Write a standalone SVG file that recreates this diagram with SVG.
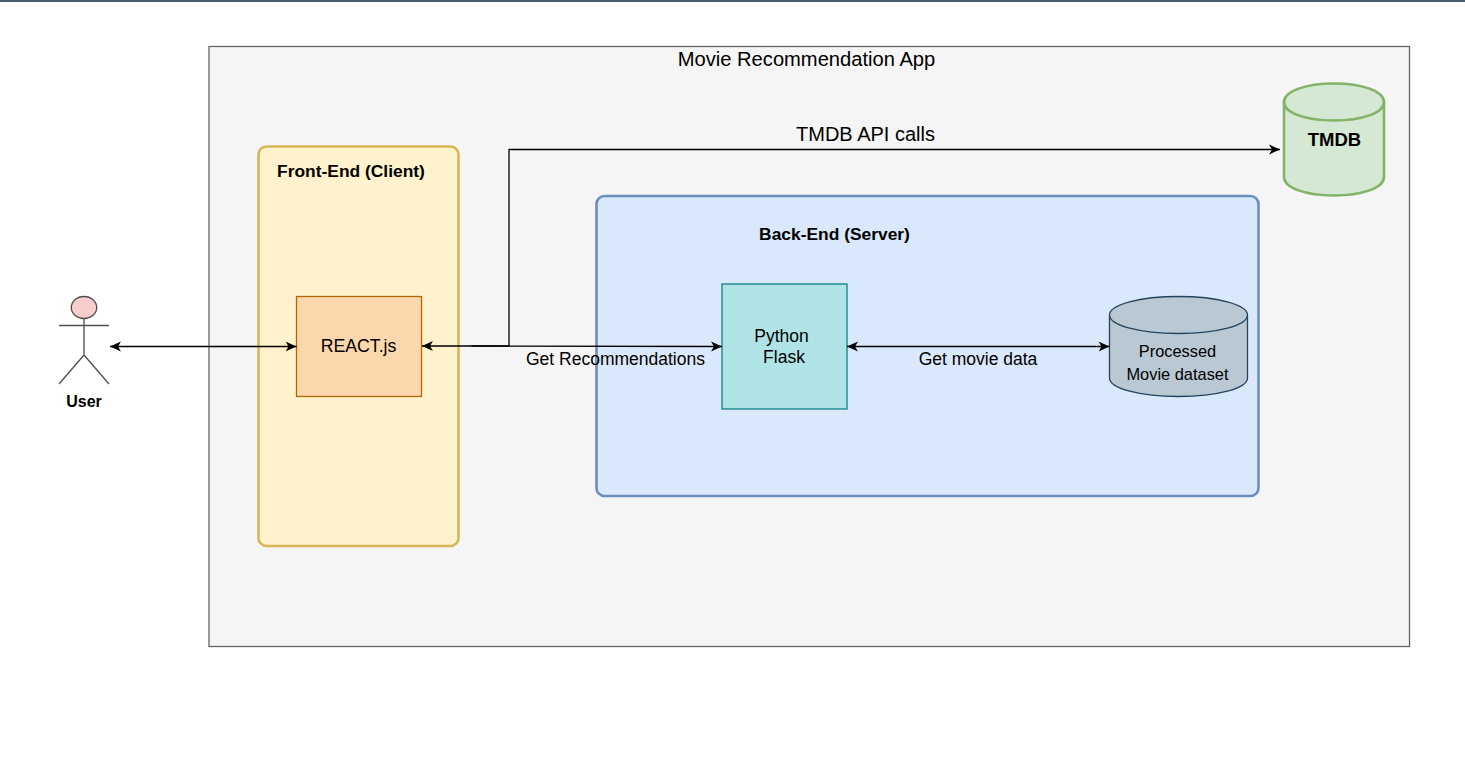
<svg xmlns="http://www.w3.org/2000/svg" width="1465" height="759" viewBox="0 0 1465 759">
<style>
text{font-family:"Liberation Sans",Arial,sans-serif;fill:#000;text-anchor:middle}
.b{font-weight:bold;font-size:17.400px}
.m{font-size:16.400px}
.l{font-size:17.500px}
.c{fill:none;stroke:#000;stroke-width:1.300}
.head{fill:#000}
</style>
<defs>
<marker id="arrow" markerUnits="userSpaceOnUse" viewBox="0 0 12 12" refX="11" refY="6" markerWidth="12" markerHeight="12" orient="auto-start-reverse"><path class="head" d="M0,1 L11,6 L0,11 L3,6 Z"/></marker>
</defs>
<rect width="1465" height="759" fill="#fff"/>
<rect id="topbar" x="0" y="0" width="1465" height="2" fill="#4a5f6b"/>
<g id="app"><rect x="209" y="46.500" width="1200.500" height="600" fill="#f5f5f5" stroke="#666" stroke-width="1.300"/><text x="806.500" y="65.500" style="font-size:20.150px">Movie Recommendation App</text></g>
<g id="frontend"><rect x="258.500" y="146.500" width="200" height="399.500" rx="8" fill="#fff2cc" stroke="#d6b656" stroke-width="2.600"/><text x="351" y="176.500" class="b">Front-End (Client)</text></g>
<g id="backend"><rect x="596.500" y="196" width="662" height="300" rx="8" fill="#dae8fc" stroke="#6c8ebf" stroke-width="2.600"/><text x="834.500" y="240" class="b">Back-End (Server)</text></g>
<g id="react"><rect x="296.500" y="296.500" width="125" height="100" fill="#fad7ac" stroke="#b46504" stroke-width="1.300"/><text x="358.500" y="351.500" style="font-size:17.700px">REACT.js</text></g>
<g id="flask"><rect x="722" y="284" width="125" height="125" fill="#b0e3e6" stroke="#0e8088" stroke-width="1.300"/><text x="781.500" y="341.500" class="l">Python</text><text x="784" y="362.500" class="l">Flask</text></g>
<g id="dataset"><path d="M1109.500,315 C1109.500,304.500 1140,296.500 1178.500,296.500 C1217,296.500 1247.500,304.500 1247.500,315 V378 C1247.500,388.500 1217,396.500 1178.500,396.500 C1140,396.500 1109.500,388.500 1109.500,378 Z" fill="#bac8d3" stroke="#23445d" stroke-width="1.300"/><path d="M1109.500,315 C1109.500,325.500 1140,333.500 1178.500,333.500 C1217,333.500 1247.500,325.500 1247.500,315" fill="none" stroke="#23445d" stroke-width="1.300"/><text x="1177.500" y="357" class="m">Processed</text><text x="1177.500" y="380" class="m">Movie dataset</text></g>
<g id="tmdb"><path d="M1284,102 C1284,91 1306,83.500 1334,83.500 C1362,83.500 1384,91 1384,102 V177 C1384,188 1362,195.500 1334,195.500 C1306,195.500 1284,188 1284,177 Z" fill="#d5e8d4" stroke="#82b366" stroke-width="2.600"/><path d="M1284,102 C1284,113 1306,120.500 1334,120.500 C1362,120.500 1384,113 1384,102" fill="none" stroke="#82b366" stroke-width="2.600"/><text x="1334.500" y="145.500" style="font-weight:bold;font-size:18.500px">TMDB</text></g>
<g id="user"><ellipse cx="84" cy="307.500" rx="12.700" ry="11" fill="#f8cecc" stroke="#4d4d4d" stroke-width="1.300"/><path d="M84,318.500 V355 M59,325.500 H109 M59,384 L84,355 L109,384" fill="none" stroke="#4d4d4d" stroke-width="1.300"/><text x="84" y="406.500" style="font-weight:bold;font-size:16px">User</text></g>
<g id="connectors">
<path class="c" d="M110,346.500 H296.500" marker-start="url(#arrow)" marker-end="url(#arrow)"/>
<path class="c" d="M422,346 H509 V149.500 H1280" marker-start="url(#arrow)" marker-end="url(#arrow)"/>
<path class="c" d="M471.500,346 L722,346.500" marker-end="url(#arrow)"/>
<path class="c" d="M847,346.500 H1109.500" marker-start="url(#arrow)" marker-end="url(#arrow)"/>
<text x="865.500" y="140.500" style="font-size:20px">TMDB API calls</text>
<text x="615.500" y="364.500" class="l">Get Recommendations</text>
<text x="978" y="364.500" class="l">Get movie data</text>
</g>
</svg>
